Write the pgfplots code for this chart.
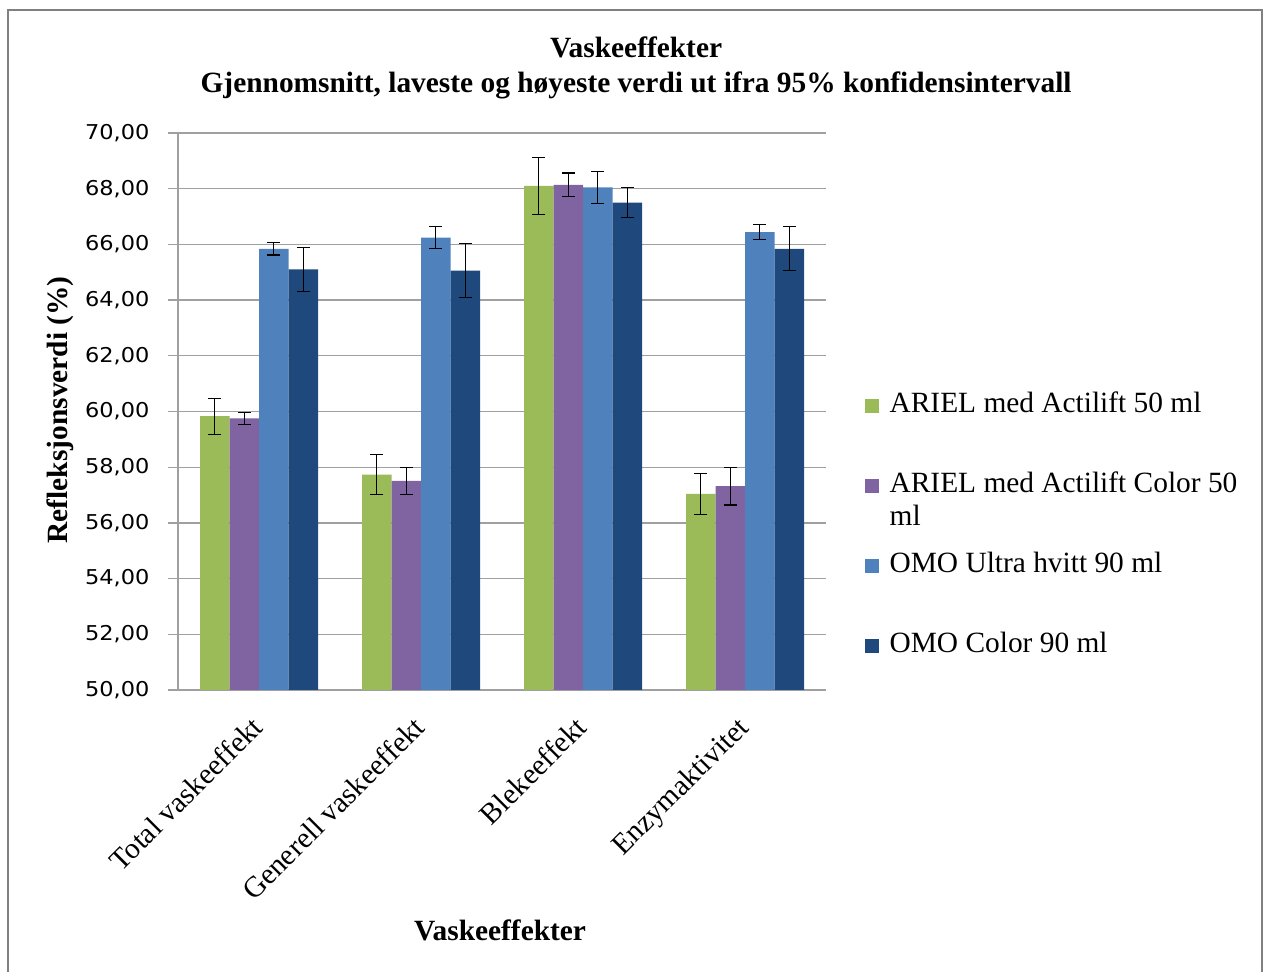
\documentclass[border=0pt]{standalone}
\usepackage{fontspec}
\setmainfont{Liberation Serif}
\newfontfamily\tickfont[FakeStretch=1.1]{DejaVu Sans}
\usepackage{pgfplots}
\pgfplotsset{compat=1.18}
\definecolor{cgreen}{HTML}{9BBB59}
\definecolor{cpurple}{HTML}{8064A2}
\definecolor{clblue}{HTML}{4F81BD}
\definecolor{cdblue}{HTML}{1F497D}
\definecolor{cgrid}{HTML}{A0A0A0}
\begin{document}
\begin{tikzpicture}
\useasboundingbox (0bp,0bp) rectangle (1264bp,972bp);
\draw[color=black!50, line width=2bp] (8bp,-5bp) -- (8bp,962bp) -- (1262bp,962bp) -- (1262bp,-5bp);
\begin{axis}[
  at={(178bp,282bp)}, anchor=south west,
  scale only axis, width=648bp, height=557bp,
  ymin=50, ymax=70, ytick={50,52,...,70},
  xmin=-0.5, xmax=3.5, xtick={0,1,2,3},
  xticklabels={Total vaskeeffekt, Generell vaskeeffekt, Blekeeffekt, Enzymaktivitet},
  ybar=0pt, bar width=29.5bp,
  axis x line*=bottom, axis y line*=left,
  axis line style={cgrid, line width=1.3bp, -},
  ymajorgrids, grid style={cgrid, line width=1.3bp},
  tick align=outside, tick style={cgrid, line width=1.3bp},
  major tick length=10bp,
  xtick style={draw=none},
  /pgf/number format/.cd, fixed, fixed zerofill, precision=2, use comma, assume math mode=true,
  /pgfplots/.cd,
  yticklabel style={font=\tickfont\fontsize{20.5}{24}\selectfont, anchor=east, xshift=-15bp},
  xticklabel style={font=\fontsize{29.5}{34}\selectfont, rotate=45, anchor=north east, xshift=-13.6bp, yshift=-0.5bp},
  ylabel={Refleksjonsverdi (\%)},
  ylabel style={font=\bfseries\fontsize{29.5}{34}\selectfont, at={(axis description cs:-0.182,0.503)}, anchor=center},
  xlabel={Vaskeeffekter},
  xlabel style={font=\bfseries\fontsize{29.5}{34}\selectfont, at={(axis description cs:0.497,-0.431)}, anchor=center},
  title={Vaskeeffekter\\Gjennomsnitt, laveste og høyeste verdi ut ifra 95\% konfidensintervall},
  title style={font=\bfseries\fontsize{29.5}{35}\selectfont, align=center, at={(axis description cs:0.707,1.106)}, anchor=center},
  legend style={draw=none, fill=none, at={(axis description cs:1.0547,0.295)}, anchor=west,
    font=\fontsize{29.5}{33}\selectfont, row sep=48bp, column sep=8bp,
    nodes={text height=20bp, text depth=6bp, inner sep=3bp, anchor=west}},
  legend cell align=left,
  legend image code/.code={\fill[#1] (0bp,-7bp) rectangle (14bp,7bp);},
  error bars/y dir=both, error bars/y explicit,
  error bars/error bar style={black, line width=1.2bp},
  error bars/error mark options={black, rotate=90, mark size=6.5bp, line width=1.2bp},
]
\addplot[fill=cgreen, draw=none] coordinates {(0,59.83) +- (0,0.65) (1,57.73) +- (0,0.72) (2,68.10) +- (0,1.02) (3,57.04) +- (0,0.74)};
\addplot[fill=cpurple, draw=none] coordinates {(0,59.75) +- (0,0.21) (1,57.51) +- (0,0.48) (2,68.14) +- (0,0.42) (3,57.32) +- (0,0.68)};
\addplot[fill=clblue, draw=none] coordinates {(0,65.84) +- (0,0.22) (1,66.24) +- (0,0.39) (2,68.05) +- (0,0.58) (3,66.44) +- (0,0.27)};
\addplot[fill=cdblue, draw=none] coordinates {(0,65.10) +- (0,0.80) (1,65.06) +- (0,0.97) (2,67.50) +- (0,0.53) (3,65.84) +- (0,0.79)};
\legend{ARIEL med Actilift 50 ml, {\smash{\parbox[t]{360bp}{ARIEL med Actilift Color 50\\ml}}}, OMO Ultra hvitt 90 ml, OMO Color 90 ml}
\end{axis}
\end{tikzpicture}
\end{document}
